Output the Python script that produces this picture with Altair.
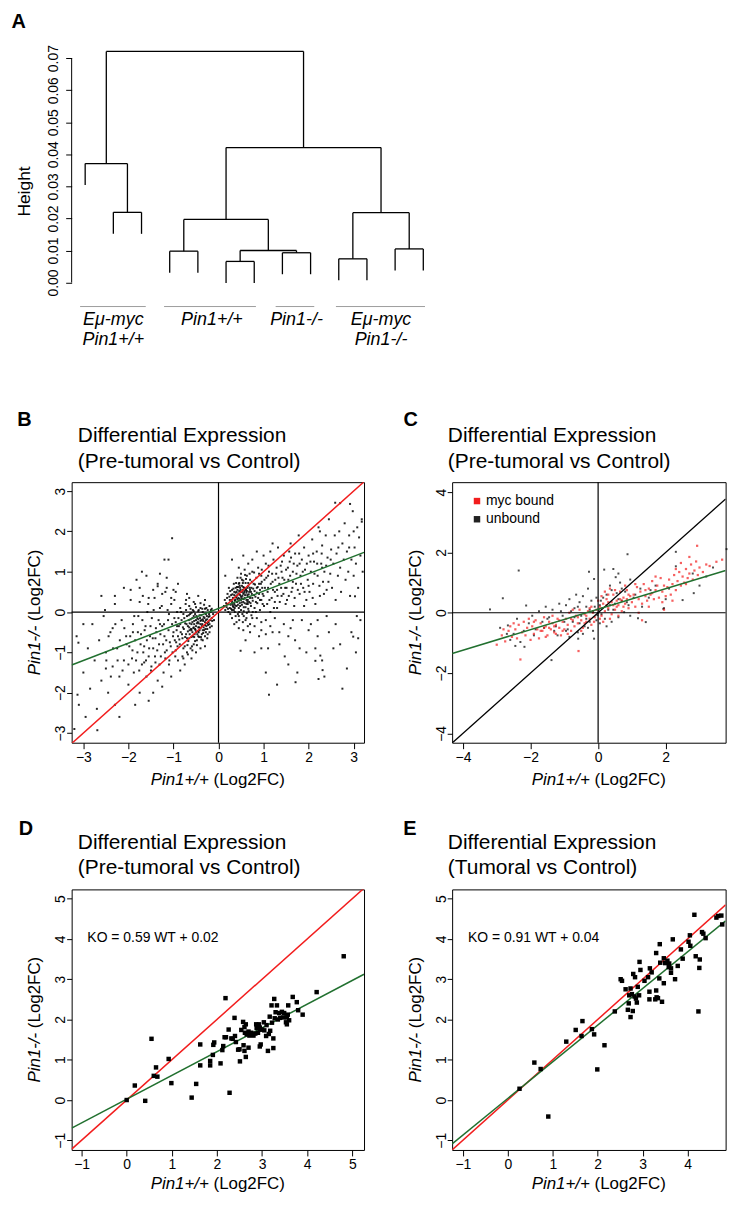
import altair as alt
import pandas as pd

FONT = "Liberation Sans"
RED = "#f21d1d"
GREEN = "#21702f"
GRAY = "#9c9c9c"

# ---------------- Panel A : hierarchical clustering ----------------
A_merge_left = [-6, -10, -8, -4, 1, -12, 4, 2, -2, -1, 7, 10]
A_merge_right = [-7, -11, -9, -5, 3, -13, 5, 6, -3, 9, 8, 11]
A_heights = [0.0066, 0.0074, 0.0093, 0.0098, 0.0100, 0.0105,
             0.0197, 0.0218, 0.0219, 0.0371, 0.0421, 0.0721]
A_hang = 0.0067
A_ticks = [0.0, 0.01, 0.02, 0.03, 0.04, 0.05, 0.06, 0.07]
A_group_start = [0.82, 3.8, 7.76, 9.9]
A_group_end = [3.15, 7.06, 9.13, 13.06]
A_group_center = [2.0, 5.5, 8.5, 11.5]
A_label1 = ["E\u03bc-myc", "Pin1+/+", "Pin1-/-", "E\u03bc-myc"]
A_label2 = ["Pin1+/+", "", "", "Pin1-/-"]

# ---------------- Panel B : all genes (pre-tumoral) ----------------
B_pos_core = [(0.15,0.05),(0.18,0.12),(0.2,0.2),(0.22,0.0),(0.25,0.3),(0.25,0.1),(0.27,0.18),(0.28,0.42),(0.3,0.05),(0.3,0.25),
              (0.32,0.35),(0.33,0.12),(0.35,0.5),(0.35,0.2),(0.36,0.0),(0.37,0.3),(0.38,0.6),(0.4,0.15),(0.4,0.4),(0.41,0.25),
              (0.42,0.55),(0.43,-0.05),(0.44,0.35),(0.45,0.7),(0.45,0.1),(0.46,0.45),(0.47,0.22),(0.48,0.6),(0.5,0.3),(0.5,0.05),
              (0.5,0.5),(0.52,0.8),(0.52,0.18),(0.53,0.4),(0.55,0.62),(0.55,0.25),(0.56,-0.1),(0.57,0.48),(0.58,0.35),(0.6,0.72),
              (0.6,0.12),(0.61,0.55),(0.62,0.3),(0.63,0.9),(0.64,0.42),(0.65,0.2),(0.66,0.65),(0.67,0.02),(0.68,0.5),(0.7,0.35),
              (0.7,0.8),(0.72,0.15),(0.73,0.6),(0.74,0.45),(0.75,1.0),(0.76,0.28),(0.78,0.7),(0.8,0.52),(0.8,0.1),(0.82,0.38),
              (0.84,0.85),(0.85,0.6),(0.86,0.22),(0.88,1.1),(0.9,0.45),(0.9,0.7),(0.92,0.05),(0.95,0.9),(0.95,0.3),(0.97,0.6),
              (0.12,0.15),(0.14,0.3),(0.2,0.45),(0.23,0.6),(0.26,-0.05),(0.3,0.55),(0.34,0.7),(0.38,-0.1),(0.42,0.85),(0.46,-0.2),
              (0.5,0.95),(0.54,-0.25),(0.58,1.05),(0.62,-0.15),(0.66,1.2),(0.7,-0.3),(0.35,0.42),(0.45,0.28),(0.55,0.45),(0.65,0.38),
              (0.4,0.5),(0.6,0.58),(0.48,0.15),(0.52,0.65),(0.32,0.15),(0.58,0.22),(0.44,0.62),(0.68,0.25),(0.36,0.28),(0.62,0.48),
              (0.5,0.38),(0.56,0.32),(0.42,0.32),(0.46,0.52),(0.54,0.55),(0.48,0.42),(0.38,0.48),(0.64,0.6),(0.3,-0.15),(0.35,-0.3),
              (0.45,-0.4),(0.55,-0.45),(0.6,-0.2),(0.7,-0.5),(0.8,-0.35),(0.85,-0.15),(0.9,-0.6),(0.75,-0.15),(0.4,-0.25),(0.65,-0.35),
              (0.17,0.22),(0.19,0.35),(0.21,0.08),(0.24,0.38),(0.26,0.52),(0.29,0.3),(0.31,0.44),(0.33,0.58),(0.34,0.05),(0.37,0.16),
              (0.39,0.36),(0.41,0.62),(0.43,0.18),(0.44,0.46),(0.46,0.72),(0.47,0.33),(0.49,0.55),(0.51,0.24),(0.53,0.5),(0.54,0.72),
              (0.56,0.12),(0.57,0.6),(0.59,0.42),(0.61,0.82),(0.62,0.2),(0.63,0.52),(0.65,0.3),(0.66,0.72),(0.67,0.44),(0.69,0.6),
              (0.71,0.22),(0.72,0.5),(0.74,0.75),(0.75,0.35),(0.77,0.58),(0.79,0.42),(0.81,0.68),(0.83,0.25),(0.85,0.48),(0.87,0.62),
              (0.39,0.72),(0.49,0.85),(0.59,0.92),(0.69,0.95),(0.79,0.98),(0.36,0.1),(0.46,0.0),(0.56,0.02),(0.66,0.08),(0.76,0.0),
              (0.28,0.08),(0.31,0.2),(0.42,0.42),(0.52,0.34),(0.58,0.52),(0.64,0.25),(0.7,0.55),(0.47,0.65),(0.55,0.78),(0.38,0.38),
              (0.53,-0.05),(0.63,-0.02),(0.73,-0.08),(0.45,-0.1),(0.83,0.0),(0.88,0.35),(0.92,0.55),(0.96,0.75),(0.98,0.2),(0.9,0.95)]
B_pos_spread = [(1.0,0.4),(1.02,0.8),(1.05,1.2),(1.08,0.2),(1.1,0.6),(1.12,1.0),(1.15,1.5),(1.18,0.35),(1.2,0.75),(1.22,1.3),
                (1.25,0.5),(1.28,0.95),(1.3,0.1),(1.32,1.6),(1.35,0.7),(1.38,1.15),(1.4,0.4),(1.42,0.85),(1.45,1.4),(1.48,0.6),
                (1.5,1.05),(1.05,-0.2),(1.2,-0.5),(1.35,-0.8),(1.45,-0.3),(1.15,0.0),(1.3,0.55),(1.1,0.9),(1.25,0.25),(1.4,1.0),
                (1.0,1.4),(1.2,1.7),(1.47,-1.1),(1.1,-0.9),
                (1.52,0.3),(1.55,0.8),(1.58,1.25),(1.6,1.7),(1.62,0.5),(1.65,1.0),(1.68,0.15),(1.7,1.45),(1.72,0.7),(1.75,1.15),
                (1.78,1.9),(1.8,0.45),(1.82,0.9),(1.85,1.3),(1.88,0.6),(1.9,1.6),(1.92,1.05),(1.95,0.3),(1.98,0.8),(2.0,1.4),
                (1.6,-0.4),(1.7,-0.7),(1.85,-0.2),(1.95,-1.0),(1.55,-1.3),(1.75,-1.5),(1.65,0.75),(1.9,0.15),(1.8,1.2),(1.57,1.5),
                (2.02,0.5),(2.05,1.0),(2.08,1.8),(2.1,0.7),(2.12,1.25),(2.15,0.2),(2.18,1.5),(2.2,0.9),(2.22,2.1),(2.25,0.4),
                (2.28,1.2),(2.3,1.65),(2.32,0.75),(2.35,1.0),(2.38,1.9),(2.4,0.55),(2.42,1.35),(2.45,2.3),(2.48,0.95),(2.5,1.55),
                (2.05,-0.3),(2.2,-0.6),(2.3,-1.2),(2.4,-0.1),(2.35,-1.6),(2.15,-0.9),(2.45,-0.5),(2.1,1.45),(2.3,1.1),(2.25,2.0),
                (2.52,0.6),(2.55,1.2),(2.58,1.9),(2.6,0.3),(2.62,1.45),(2.65,0.9),(2.68,2.0),(2.7,1.1),(2.72,0.5),(2.75,1.7),
                (2.78,1.3),(2.8,2.2),(2.82,0.8),(2.85,1.5),(2.88,1.0),(2.9,1.9),(2.92,0.4),(2.95,1.3),(2.98,2.5),(3.0,0.9),
                (3.02,1.6),(3.05,1.2),(3.08,2.1),(3.1,0.6),(3.12,1.85),(3.15,1.4),(3.18,2.3),(3.2,1.0),(2.6,-0.3),(2.7,-0.8),
                (2.85,-1.4),(2.95,-0.5),(3.05,-1.0),(3.15,-0.2),(2.55,-0.9),(3.1,-0.65),(2.75,-1.9),(2.66,1.6),(2.9,1.6),(3.0,2.0),
                (2.7,2.7),(0.3,1.3),(0.15,0.9),(0.55,1.4),(0.45,1.1),(0.75,1.3),(0.85,1.5),(0.95,-0.45),(0.95,-0.9),(0.6,-0.7),
                (0.8,-1.0),(1.05,-1.5),(1.3,-1.8),(2.26,-1.08),(2.31,-1.44),(1.71,-1.74),(2.99,-0.61),(1.12,-2.05),(2.22,-1.66),
                (2.15,-1.21),(0.49,-0.96),(3.03,0.39),(3.07,-0.1),(3.18,2.24),(2.92,2.68),(2.59,2.71),
                (0.92,0.3),(0.94,0.7),(0.96,1.05),(0.98,0.45),(1.01,0.15),(1.03,0.6),(1.06,0.85),(1.09,0.5),(1.11,1.15),(1.13,0.3),
                (1.16,0.7),(1.19,0.95),(1.21,0.55),(1.23,0.1),(1.26,0.8),(1.29,1.1),(1.31,0.4),(1.33,0.85),(1.36,0.25),(1.39,0.6),
                (1.41,1.25),(1.44,0.45),(1.46,0.8),(1.49,0.2),(1.51,0.6),(1.54,1.1),(1.56,0.4),(1.59,0.9),(1.61,1.35),(1.64,0.6),
                (1.67,1.2),(1.69,0.35),(1.73,0.95),(1.76,0.55),(1.79,1.45),(1.83,0.7),(1.87,1.0),(1.91,0.5),(1.96,1.2),(2.0,0.65),
                (2.04,1.25),(2.09,0.35),(2.13,0.95),(2.19,1.2),(2.24,0.65),(2.29,1.45),(2.34,0.45),(2.39,1.15),(2.44,0.75),(2.49,1.3),
                (0.95,-0.25),(1.05,-0.55),(1.15,-0.35),(1.25,-0.15),(1.35,-0.5),(1.55,-0.6),(1.65,-0.2),(1.8,-0.9),(2.0,-0.45),(2.2,-0.2)]
B_neg_core = [(-0.12,-0.05),(-0.15,-0.15),(-0.18,0.0),(-0.2,-0.1),(-0.22,-0.25),(-0.24,0.05),(-0.25,-0.18),(-0.27,-0.35),
              (-0.28,-0.05),(-0.3,0.08),(-0.3,-0.25),(-0.32,-0.45),(-0.33,-0.12),(-0.35,0.0),(-0.36,-0.3),(-0.37,-0.55),
              (-0.38,-0.2),(-0.4,0.1),(-0.4,-0.4),(-0.42,-0.08),(-0.43,-0.62),(-0.44,-0.28),(-0.45,0.02),(-0.46,-0.48),
              (-0.47,-0.15),(-0.48,-0.7),(-0.5,-0.35),(-0.5,0.12),(-0.52,-0.05),(-0.53,-0.55),(-0.54,-0.22),(-0.55,-0.8),
              (-0.56,-0.4),(-0.57,0.05),(-0.58,-0.15),(-0.6,-0.62),(-0.6,-0.3),(-0.62,-0.9),(-0.63,-0.05),(-0.64,-0.45),
              (-0.65,0.15),(-0.66,-0.2),(-0.67,-0.72),(-0.68,-0.35),(-0.7,-1.0),(-0.7,-0.1),(-0.72,-0.55),(-0.73,0.2),
              (-0.74,-0.28),(-0.75,-0.85),(-0.77,-0.42),(-0.78,-0.05),(-0.8,-0.65),(-0.8,-1.1),(-0.82,-0.2),(-0.84,-0.5),
              (-0.85,0.1),(-0.86,-0.8),(-0.88,-0.35),(-0.9,-1.2),(-0.9,-0.6),(-0.92,0.0),(-0.95,-0.95),(-0.95,-0.25),
              (-0.97,-0.7),(-0.98,0.3),(-0.2,-0.3),(-0.25,-0.42),(-0.3,-0.6),(-0.35,-0.7),(-0.4,-0.22),(-0.45,-0.38),
              (-0.5,-0.2),(-0.55,-0.1),(-0.35,-0.18),(-0.42,-0.45),(-0.48,-0.28),(-0.38,-0.08),(-0.28,-0.2),(-0.52,-0.42),
              (-0.58,-0.5),(-0.62,-0.18),(-0.45,-0.6),(-0.33,-0.38),(-0.6,-0.02),(-0.22,-0.12),(-0.27,0.1),(-0.15,0.08),
              (-0.4,0.22),(-0.55,0.25),(-0.65,0.35),(-0.3,0.3),(-0.45,0.4),(-0.7,0.45),(-0.2,0.15),(-0.1,-0.2),
              (-0.15,-0.35),(-0.2,-0.5),(-0.25,-0.65),(-0.3,-0.85),(-0.4,-0.9),(-0.5,-1.0),(-0.6,-1.15),(-0.75,-1.3),(-0.85,-1.45),
              (-0.14,-0.22),(-0.17,0.05),(-0.19,-0.38),(-0.21,-0.05),(-0.23,-0.32),(-0.26,-0.1),(-0.29,-0.42),(-0.31,-0.15),
              (-0.34,-0.52),(-0.36,0.08),(-0.37,-0.35),(-0.39,-0.62),(-0.41,-0.15),(-0.43,-0.38),(-0.44,0.05),(-0.46,-0.25),
              (-0.47,-0.55),(-0.49,-0.1),(-0.51,-0.45),(-0.52,-0.72),(-0.54,-0.3),(-0.55,0.02),(-0.57,-0.6),(-0.58,-0.25),
              (-0.59,-0.85),(-0.61,-0.42),(-0.62,0.08),(-0.64,-0.28),(-0.65,-0.65),(-0.66,-0.08),(-0.68,-0.48),(-0.69,-0.82),
              (-0.71,-0.3),(-0.72,0.05),(-0.74,-0.62),(-0.76,-0.15),(-0.78,-0.9),(-0.79,-0.38),(-0.81,-0.55),(-0.83,0.0),
              (-0.85,-0.3),(-0.87,-0.68),(-0.89,-0.15),(-0.91,-0.85),(-0.93,-0.45),(-0.24,-0.55),(-0.34,-0.22),(-0.44,-0.5),
              (-0.54,-0.62),(-0.64,-0.55),(-0.3,-0.32),(-0.4,-0.3),(-0.5,-0.5),(-0.6,-0.45),(-0.7,-0.65),(-0.45,-0.18),
              (-0.55,-0.38),(-0.35,-0.45),(-0.25,-0.28),(-0.65,-0.38),(-0.18,-0.2),(-0.28,-0.5),(-0.38,-0.68),(-0.48,-0.82),
              (-0.58,-0.95),(-0.68,-1.05),(-0.78,-1.15),(-0.32,0.18),(-0.52,0.2),(-0.72,0.3)]
B_neg_spread = [(-1.0,-0.5),(-1.02,-1.0),(-1.05,0.2),(-1.08,-0.75),(-1.1,-1.3),(-1.12,-0.2),(-1.15,-0.95),(-1.18,0.5),
                (-1.2,-0.6),(-1.22,-1.5),(-1.25,-0.35),(-1.28,-1.1),(-1.3,0.1),(-1.32,-0.8),(-1.35,-1.7),(-1.38,-0.5),
                (-1.4,-1.25),(-1.42,0.35),(-1.45,-0.9),(-1.48,-0.15),(-1.5,-1.45),(-1.05,-1.6),(-1.15,0.85),(-1.2,1.3),
                (-1.35,0.7),(-1.45,-2.0),(-1.25,-1.85),(-1.1,-0.05),(-1.3,-0.3),(-1.4,-0.65),(-1.0,0.55),(-1.18,-1.15),
                (-1.52,-0.6),(-1.55,-1.1),(-1.58,0.0),(-1.6,-1.6),(-1.62,-0.35),(-1.65,-0.85),(-1.68,0.4),(-1.7,-1.3),
                (-1.72,-0.55),(-1.75,-2.0),(-1.78,-0.1),(-1.8,-1.0),(-1.82,0.8),(-1.85,-0.7),(-1.88,-1.5),(-1.9,-0.3),
                (-1.92,-1.15),(-1.95,0.3),(-1.98,-0.85),(-2.0,-1.8),(-1.6,0.9),(-1.7,1.0),(-1.55,-2.2),(-1.85,-2.3),
                (-1.65,-1.25),(-1.9,-0.5),(-2.05,-0.6),(-2.1,-1.2),(-2.15,-0.2),(-2.2,-1.6),(-2.25,-0.9),(-2.3,0.2),
                (-2.35,-1.35),(-2.4,-0.5),(-2.45,-2.0),(-2.5,-1.0),(-2.55,-0.1),(-2.6,-1.7),(-2.65,-0.7),(-2.7,-2.4),
                (-2.75,-1.2),(-2.8,-0.3),(-2.85,-1.9),(-2.9,-0.9),(-2.95,-2.6),(-3.0,-1.5),(-3.1,-2.3),(-3.15,-0.6),
                (-3.2,-2.9),(-2.3,-2.3),(-2.1,0.6),(-2.6,0.4),(-2.2,-2.6),(-3.0,-0.3),(-2.5,-1.4),(-2.35,-0.4),
                (-1.03,1.83),(-1.11,1.30),(-1.35,0.64),(-1.75,0.6),(-2.3,0.4),(-2.52,0.05),(-3.11,-0.76),(-3.13,-2.05),(-2.69,-2.93),
                (-0.92,-0.35),(-0.94,-0.75),(-0.96,-1.1),(-0.98,-0.15),(-1.01,-0.6),(-1.03,-0.3),(-1.06,-0.85),(-1.09,-1.2),
                (-1.11,-0.45),(-1.13,0.05),(-1.16,-0.7),(-1.19,-1.0),(-1.21,-0.3),(-1.23,-0.8),(-1.26,0.15),(-1.29,-0.55),
                (-1.31,-1.3),(-1.33,-0.2),(-1.36,-0.95),(-1.39,-0.4),(-1.41,-1.1),(-1.44,0.05),(-1.46,-0.65),(-1.49,-1.35),
                (-1.51,-0.35),(-1.54,-0.9),(-1.56,0.2),(-1.59,-0.7),(-1.61,-1.2),(-1.64,-0.45),(-1.67,-1.0),(-1.69,-0.2),
                (-1.73,-0.8),(-1.76,-1.45),(-1.79,-0.5),(-1.83,-1.2),(-1.87,-0.1),(-1.91,-0.95),(-1.96,-0.6),(-2.0,-1.3),
                (-2.04,-0.8),(-2.09,-0.4),(-2.13,-1.45),(-2.19,-0.7),(-2.24,-1.2),(-2.29,-0.3),(-2.34,-0.9),(-2.39,-1.6),
                (-2.44,-0.6),(-2.49,-1.2),(-0.95,0.5),(-1.05,0.35),(-1.15,0.6),(-1.25,0.45),(-1.45,0.55),(-1.55,0.35),
                (-1.75,0.25),(-1.95,0.55),(-0.9,0.7),(-1.3,0.95)]
B_fit = (0.43, 0.09)      # green regression line: slope, intercept
B_identity = (1.0, 0.0)   # red y = x

# ---------------- Panel C : myc bound / unbound ----------------
C_bound = [(-3.0,-1.06),(-2.85,-0.75),(-2.75,-0.95),(-2.65,-0.6),(-2.55,-0.8),(-2.45,-0.55),(-2.4,-0.85),(-2.35,-0.4),
           (-2.3,-1.55),(-2.25,-0.65),(-2.2,-0.3),(-2.15,-0.75),(-2.1,-0.5),(-2.05,-0.2),(-2.0,-0.9),(-2.5,-0.35),
           (-2.6,-0.45),(-2.8,-0.55),(-1.95,-0.45),(-1.9,-0.7),(-1.85,-0.25),(-1.8,-0.55),(-1.75,-0.85),(-1.7,-0.35),
           (-1.65,-0.6),(-1.6,-0.15),(-1.55,-0.45),(-1.5,-0.75),(-1.45,-0.3),(-1.4,-0.55),(-1.35,-0.1),(-1.3,-0.65),
           (-1.25,-0.4),(-1.2,-0.2),(-1.15,-0.5),(-1.1,-0.75),(-1.05,-0.3),(-1.0,-0.55),(-1.9,-0.3),(-1.7,-0.6),
           (-1.55,-0.8),(-1.45,-0.5),(-1.35,-0.35),(-1.25,-0.7),(-1.15,-0.25),(-1.05,-0.6),(-1.6,-0.5),(-1.3,-0.45),
           (-0.95,-0.2),(-0.9,-0.4),(-0.85,0.0),(-0.8,-0.6),(-0.75,-0.25),(-0.7,-0.45),(-0.65,-0.1),(-0.6,-0.35),
           (-0.55,0.1),(-0.5,-0.25),(-0.45,-0.5),(-0.4,-0.05),(-0.35,-0.3),(-0.3,0.05),(-0.25,-0.2),(-0.2,-0.4),
           (-0.15,0.0),(-0.1,-0.15),(-0.05,0.1),(-0.58,-1.27),(-0.9,-0.7),(-0.75,0.1),(-0.6,-0.15),(-0.5,-0.6),
           (-0.35,-0.1),(-0.25,0.15),(-0.12,-0.3),(-0.8,-0.2),(-0.4,-0.35),(-0.2,0.2),
           (0.05,0.2),(0.1,-0.1),(0.15,0.3),(0.2,0.05),(0.25,0.45),(0.3,0.15),(0.35,-0.2),(0.4,0.35),(0.45,0.6),
           (0.5,0.1),(0.55,0.4),(0.6,0.25),(0.65,0.7),(0.7,0.05),(0.75,0.5),(0.8,0.3),(0.85,0.75),(0.9,0.15),
           (0.95,0.55),(1.0,0.35),(0.1,0.55),(0.2,0.7),(0.3,0.6),(0.4,-0.05),(0.5,0.75),(0.6,-0.1),(0.7,0.4),
           (0.8,0.9),(0.25,0.25),(0.55,0.2),(0.15,-0.3),(0.35,0.8),(0.65,0.45),(0.45,0.25),(0.9,0.6),(0.0,0.4),
           (0.05,-0.2),(0.75,0.2),(0.85,0.45),(0.3,0.35),
           (1.05,0.6),(1.1,0.2),(1.15,0.85),(1.2,0.45),(1.25,0.7),(1.3,0.3),(1.35,0.95),(1.4,0.55),(1.45,0.4),
           (1.5,0.8),(1.55,0.6),(1.6,1.05),(1.65,0.45),(1.7,0.75),(1.75,0.9),(1.8,0.5),(1.85,1.15),(1.9,0.7),
           (1.95,0.9),(2.0,0.55),(1.1,0.95),(1.3,-0.25),(1.5,0.2),(1.7,1.2),(1.9,0.35),(1.2,0.0),(1.4,0.75),(1.6,0.65),
           (2.05,0.85),(2.1,1.1),(2.15,0.6),(2.2,0.95),(2.25,1.25),(2.3,0.75),(2.35,1.05),(2.4,1.35),(2.45,0.9),
           (2.5,1.2),(2.55,1.0),(2.6,1.45),(2.65,1.15),(2.7,1.3),(2.75,1.6),(2.8,1.1),(2.85,1.4),(2.9,1.7),
           (2.93,2.22),(2.95,1.25),(3.0,1.5),(3.1,1.35),(3.2,1.6),(3.3,1.55),(3.5,1.69),(3.67,1.76),(2.3,1.45),
           (2.6,0.95),(2.45,1.65),(2.7,1.85),(1.95,0.1),(2.2,0.4)]
C_unbound = [(-3.2,0.11),(-2.82,0.48),(-2.35,1.40),(-2.13,0.24),(-2.67,-0.42),(-2.3,-0.97),(-2.18,-1.13),(-2.9,-0.5),
             (-2.5,-0.7),(-2.4,-0.2),(-2.6,-0.9),(-2.2,-0.6),(-2.05,-0.35),(-1.95,-0.1),(-1.85,-0.55),(-1.75,0.05),
             (-1.65,-0.3),(-1.55,0.2),(-1.45,-0.15),(-1.38,-1.57),(-1.35,0.1),(-1.25,-0.45),(-1.15,0.3),(-1.05,-0.1),
             (-0.95,0.25),(-0.9,-0.55),(-0.85,0.45),(-0.75,-0.3),(-0.7,0.15),(-0.65,0.6),(-0.6,-0.65),(-0.59,-0.86),
             (-0.55,0.35),(-0.5,-0.1),(-0.45,0.55),(-0.4,-0.45),(-0.35,0.2),(-0.3,0.8),(-0.27,1.36),(-0.25,-0.3),
             (-0.2,0.4),(-0.15,-0.6),(-0.12,1.12),(-0.12,-0.86),(-0.1,0.2),(-0.05,-0.25),(0.0,0.0),(0.02,0.1),
             (-0.02,-0.08),(0.05,-0.35),(0.08,0.4),(0.12,0.15),(0.18,1.43),(0.2,-0.2),(0.25,0.6),(0.3,0.1),(0.35,0.9),
             (0.4,-0.3),(0.45,1.45),(0.5,0.3),(0.52,1.18),(0.55,0.65),(0.6,-0.15),(0.65,1.0),(0.7,0.4),(0.77,0.02),
             (0.8,0.7),(0.87,1.94),(0.9,0.25),(0.95,1.1),(1.05,0.5),(1.18,-0.18),(1.25,0.8),(1.41,-0.31),(1.5,0.5),
             (1.7,0.9),(1.93,0.13),(1.95,0.15),(2.1,0.8),(2.3,2.02),(2.3,1.54),(2.5,0.42),(2.83,0.65),(3.2,1.2),
             (3.8,2.11),(-1.9,-0.75),(-1.6,-0.5),(-1.2,-0.75),(-1.0,-0.3),(-0.8,0.05),(-0.55,-0.35),(-0.35,-0.2),
             (-0.15,0.05),(-0.25,0.1),(0.1,-0.05),(0.15,0.5),(0.35,0.25),(0.45,0.1),(0.6,0.45),(0.85,0.35),
             (-0.7,-0.15),(-0.45,-0.7),(-0.95,-0.6),(-1.1,0.05),(-1.5,-0.2),(-2.7,-0.7),(-2.45,-1.1),(0.05,0.25),
             (-0.05,0.5),(0.25,-0.45),(-0.3,-0.5),(0.6,1.3),(0.4,0.75),(-0.6,0.2),(1.3,0.2),(1.55,0.75),(2.0,0.45),
             (2.8,1.3),(3.4,1.5),(3.0,0.9),(-0.85,-0.8),(-1.3,-0.6),(0.95,-0.1),(1.1,0.6),(0.7,0.8)]
C_fit = (0.34, 0.12)
C_identity = (1.0, 0.0)
C_legend = ["myc bound", "unbound"]

# ---------------- Panel D : pre-tumoral, selected genes ----------------
D_points = [(0.0,0.0),(0.18,0.36),(0.41,-0.02),(0.55,1.52),(0.65,0.81),(0.60,0.60),(0.68,0.58),(0.93,1.02),(0.99,0.42),
            (1.44,0.06),(1.54,0.40),(1.63,1.38),(1.63,0.86),(1.85,0.86),(1.85,0.97),(1.91,1.12),(1.92,1.37),(1.94,1.43),
            (2.08,0.91),(2.19,2.53),(2.12,1.24),(2.14,1.34),(2.17,1.56),(2.20,1.56),(2.26,1.75),(2.28,0.18),(2.32,1.53),
            (2.39,2.04),(2.40,1.59),(2.42,1.44),(2.50,1.26),(2.51,0.96),(2.54,1.74),(2.58,1.94),(2.59,1.36),(2.61,1.22),
            (2.61,1.81),(2.62,1.67),(2.64,1.07),(2.66,1.63),(2.70,1.30),(2.72,1.60),(2.76,1.67),(2.81,1.60),(2.87,1.88),
            (2.88,1.79),(2.91,1.67),(2.93,1.88),(2.96,1.75),(2.97,1.38),(3.00,1.75),(3.04,1.93),(3.09,1.59),(3.13,1.22),
            (3.15,1.64),(3.17,2.07),(3.21,2.35),(3.22,1.92),(3.25,1.53),(3.25,1.29),(3.27,2.51),(3.30,2.18),(3.33,2.35),
            (3.35,2.00),(3.40,2.04),(3.44,2.19),(3.49,2.16),(3.53,1.93),(3.55,1.88),(3.57,2.12),(3.58,2.35),(3.68,2.56),
            (3.77,2.43),(3.80,2.23),(3.90,2.12),(4.21,2.68),(4.81,3.57),(2.64,1.88),(2.70,1.70),(2.78,1.62),(2.85,1.65),
            (2.95,1.80),(3.05,1.73),(3.10,1.86),(3.18,1.72),(3.28,2.03),(3.38,2.16),(3.47,2.05),(3.60,1.98),(2.47,1.25),
            (2.35,1.52),(2.95,1.33),(3.55,2.05)]
D_fit = (0.59, 0.02)
D_identity = (1.0, 0.0)
D_equation = "KO = 0.59 WT + 0.02"

# ---------------- Panel E : tumoral, selected genes ----------------
E_points = [(0.26,0.28),(0.59,0.93),(0.73,0.77),(0.90,-0.41),(1.30,1.45),(1.51,1.74),(1.66,1.96),(1.64,1.59),(1.87,1.76),
            (1.92,1.63),(1.99,0.76),(2.15,1.36),(2.38,2.20),(2.51,3.00),(2.54,2.96),(2.62,2.75),(2.67,2.24),(2.69,2.40),
            (2.73,2.06),(2.73,2.77),(2.76,2.63),(2.79,3.13),(2.78,2.21),(2.83,3.05),(2.85,2.52),(2.87,2.42),(2.89,2.81),
            (2.92,2.60),(2.93,3.43),(2.95,3.23),(3.04,2.96),(3.15,2.69),(3.15,2.50),(3.16,3.27),(3.20,3.17),(3.28,2.50),
            (3.30,2.72),(3.31,2.55),(3.34,2.53),(3.30,3.65),(3.38,3.87),(3.39,3.41),(3.37,3.02),(3.43,2.44),(3.47,2.90),
            (3.47,3.52),(3.55,3.46),(3.59,3.39),(3.63,3.27),(3.63,3.16),(3.67,3.99),(3.72,3.00),(3.78,3.33),(3.85,3.74),
            (3.89,3.51),(4.02,3.93),(4.05,4.09),(4.06,3.83),(4.15,4.60),(4.18,3.57),(4.24,2.20),(4.27,3.49),(4.26,3.28),
            (4.32,4.17),(4.35,4.13),(4.40,4.02),(4.64,4.53),(4.75,4.58),(4.77,4.36),(4.68,4.57),(2.82,2.57),(3.12,3.05),
            (3.50,3.40),(3.58,3.30),(2.70,2.60)]
E_fit = (0.91, 0.04)
E_identity = (1.0, 0.0)
E_equation = "KO = 0.91 WT + 0.04"

# ---------------- helpers ----------------
ONE = alt.Data(values=[{"k": 0}])


def pts_df(*lists):
    rows = [p for lst in lists for p in lst]
    return pd.DataFrame({"x": [p[0] for p in rows], "y": [p[1] for p in rows]})


def line_df(coef, xdom):
    slope, icpt = coef
    return pd.DataFrame({"x": list(xdom), "y": [slope * v + icpt for v in xdom]})


def txt(s, x, y, size, **kw):
    return alt.Chart(ONE).mark_text(text=s, font=FONT, fontSize=size, color="black", **kw).encode(
        x=alt.value(x), y=alt.value(y))


def xaxis(vals, flush=False):
    return alt.Axis(values=vals, title=None, grid=False, domain=False, ticks=True, tickSize=6,
                    tickColor="black", tickWidth=1, labelFont=FONT, labelFontSize=14, labelColor="black",
                    labelPadding=2, labelAngle=0, labelFlush=flush, labelOverlap=False, format="d")


def yaxis(vals, fmt="d", pad=2, tick=5):
    return alt.Axis(values=vals, title=None, grid=False, domain=False, ticks=True, tickSize=tick,
                    tickColor="black", tickWidth=1, labelFont=FONT, labelFontSize=14, labelColor="black",
                    labelPadding=pad, labelAngle=270, labelAlign="center", labelBaseline="alphabetic",
                    labelOverlap=False, format=fmt)


def axis_titles(w, h, xoff):
    cx, cy = w / 2.0, h / 2.0
    return [
        txt("Pin1+/+", cx - 9.0, h + xoff, 17, align="right", fontStyle="italic"),
        txt("(Log2FC)", cx - 4.3, h + xoff, 17, align="left"),
        txt("Pin1-/-", -36.5, cy + 13.2, 17, align="right", fontStyle="italic", angle=270),
        txt("(Log2FC)", -36.5, cy + 8.5, 17, align="left", angle=270),
    ]


def enc_xy(xdom, ydom, xt, yt):
    xt = [v for v in xt if xdom[0] <= v <= xdom[1]]
    yt = [v for v in yt if ydom[0] <= v <= ydom[1]]
    X = alt.X("x:Q", scale=alt.Scale(domain=xdom, nice=False, zero=False), axis=xaxis(xt))
    Y = alt.Y("y:Q", scale=alt.Scale(domain=ydom, nice=False, zero=False), axis=yaxis(yt))
    return X, Y


# ---------------- Panel A chart ----------------
pos = {}
segs = []
for i, (l, r, h) in enumerate(zip(A_merge_left, A_merge_right, A_heights), start=1):
    xs = []
    for c in (l, r):
        if c < 0:
            xc, y0 = float(-c), h - A_hang
        else:
            xc, y0 = pos[c], A_heights[c - 1]
        segs.append({"x": xc, "x2": xc, "y": y0, "y2": h})
        xs.append(xc)
    segs.append({"x": xs[0], "x2": xs[1], "y": h, "y2": h})
    pos[i] = (xs[0] + xs[1]) / 2.0
seg_df = pd.DataFrame(segs)

ROW_GAP = 147.5
AW = 367.2
AH = 441.8 - ROW_GAP          # A's plot box ends one row-gap above panel B
A_px_per_unit = 3224.0        # pixels per unit of height
AXS = alt.Scale(domain=[0.52, 13.48], nice=False, zero=False)
AYS = alt.Scale(domain=[0.075 - AH / A_px_per_unit, 0.075], nice=False, zero=False)
a_yaxis = yaxis(A_ticks, fmt=".2f", pad=8, tick=6)

a_dend = alt.Chart(seg_df).mark_rule(color="black", strokeWidth=1.3).encode(
    x=alt.X("x:Q", scale=AXS, axis=None), x2="x2:Q",
    y=alt.Y("y:Q", scale=AYS, axis=a_yaxis), y2="y2:Q")
a_domain = alt.Chart(pd.DataFrame({"y": [A_ticks[0]], "y2": [A_ticks[-1]]})).mark_rule(
    color="black", strokeWidth=1).encode(
    x=alt.value(0), y=alt.Y("y:Q", scale=AYS, axis=a_yaxis), y2="y2:Q")
a_groups = alt.Chart(pd.DataFrame({"s": A_group_start, "e": A_group_end})).mark_rule(
    color=GRAY, strokeWidth=1).encode(
    x=alt.X("s:Q", scale=AXS, axis=None), x2="e:Q", y=alt.value(265.9))
a_lab1 = alt.Chart(pd.DataFrame({"c": A_group_center, "t": A_label1})).mark_text(
    font=FONT, fontSize=18, fontStyle="italic", color="black").encode(
    x=alt.X("c:Q", scale=AXS, axis=None), y=alt.value(279.5), text="t:N")
lab2 = [(c, t) for c, t in zip(A_group_center, A_label2) if t]
a_lab2 = alt.Chart(pd.DataFrame({"c": [c for c, _ in lab2], "t": [t for _, t in lab2]})).mark_text(
    font=FONT, fontSize=18, fontStyle="italic", color="black").encode(
    x=alt.X("c:Q", scale=AXS, axis=None), y=alt.value(299.5), text="t:N")

chart_A = alt.layer(
    a_dend, a_domain, a_groups, a_lab1, a_lab2,
    txt("A", -53.2, -20.2, 20, fontWeight="bold"),
    txt("Height", -46.5, 150.2, 17.5, angle=270),
).properties(width=AW, height=AH, view=alt.ViewBackground(stroke=None))

# ---------------- Panel B chart ----------------
BXD, BYD = [-3.26, 3.23], [-3.24, 3.22]
BW, BH = 294, 262
X, Y = enc_xy(BXD, BYD, [-3, -2, -1, 0, 1, 2, 3], [-3, -2, -1, 0, 1, 2, 3])
b_pts = alt.Chart(pts_df(B_neg_spread, B_pos_spread, B_neg_core, B_pos_core)).mark_square(
    size=4, color="black", opacity=0.85).encode(x=X, y=Y)
b_v0 = alt.Chart(pd.DataFrame({"x": [0.0]})).mark_rule(color="black", strokeWidth=1.2).encode(x=X)
b_h0 = alt.Chart(pd.DataFrame({"y": [0.0]})).mark_rule(color="black", strokeWidth=1.2).encode(y=Y)
b_red = alt.Chart(line_df(B_identity, BXD)).mark_line(color=RED, strokeWidth=1.5, clip=True).encode(x=X, y=Y)
b_green = alt.Chart(line_df(B_fit, BXD)).mark_line(color=GREEN, strokeWidth=1.5, clip=True).encode(x=X, y=Y)
chart_B = alt.layer(
    b_pts, b_v0, b_h0, b_red, b_green,
    txt("B", -47.5, -62.5, 20, fontWeight="bold"),
    txt("Differential Expression", 6.2, -46.7, 21, align="left"),
    txt("(Pre-tumoral vs Control)", 6.2, -20.0, 21, align="left"),
    *axis_titles(BW, BH, 38),
).properties(width=BW, height=BH)

# ---------------- Panel C chart ----------------
CW, CH = 275, 262
CXD, CYD = [-4.32, -4.32 + CW / 33.98], [-4.31, 4.33]
X, Y = enc_xy(CXD, CYD, [-4, -2, 0, 2, 4], [-4, -2, 0, 2, 4])
c_unb = alt.Chart(pts_df(C_unbound)).mark_square(size=4, color="black").encode(x=X, y=Y)
c_bnd = alt.Chart(pts_df(C_bound)).mark_square(size=5, color=RED).encode(x=X, y=Y)
c_v0 = alt.Chart(pd.DataFrame({"x": [0.0]})).mark_rule(color="black", strokeWidth=1.2).encode(x=X)
c_h0 = alt.Chart(pd.DataFrame({"y": [0.0]})).mark_rule(color="black", strokeWidth=1.2).encode(y=Y)
c_diag = alt.Chart(line_df(C_identity, CXD)).mark_line(color="black", strokeWidth=1.3, clip=True).encode(x=X, y=Y)
c_green = alt.Chart(line_df(C_fit, CXD)).mark_line(color=GREEN, strokeWidth=1.5, clip=True).encode(x=X, y=Y)
chart_C = alt.layer(
    c_unb, c_bnd, c_v0, c_h0, c_diag, c_green,
    alt.Chart(ONE).mark_square(size=42, color=RED, opacity=1).encode(x=alt.value(25), y=alt.value(19)),
    alt.Chart(ONE).mark_square(size=42, color="#222222", opacity=1).encode(x=alt.value(25), y=alt.value(37.3)),
    txt(C_legend[0], 34, 19, 14, align="left"),
    txt(C_legend[1], 34, 37.3, 14, align="left"),
    txt("C", -41.6, -62.5, 20, fontWeight="bold"),
    txt("Differential Expression", -4.3, -46.7, 21, align="left"),
    txt("(Pre-tumoral vs Control)", -4.3, -20.0, 21, align="left"),
    *axis_titles(295, CH, 38),
).properties(width=CW, height=CH)

# ---------------- Panel D chart ----------------
DXD, DYD = [-1.22, 5.26], [-1.24, 5.23]
DW, DH = 294, 262
X, Y = enc_xy(DXD, DYD, [-1, 0, 1, 2, 3, 4, 5], [-1, 0, 1, 2, 3, 4, 5])
d_red = alt.Chart(line_df(D_identity, DXD)).mark_line(color=RED, strokeWidth=1.5, clip=True).encode(x=X, y=Y)
d_green = alt.Chart(line_df(D_fit, DXD)).mark_line(color=GREEN, strokeWidth=1.5, clip=True).encode(x=X, y=Y)
d_pts = alt.Chart(pts_df(D_points)).mark_square(size=20, color="black", opacity=1).encode(x=X, y=Y)
chart_D = alt.layer(
    d_red, d_green, d_pts,
    txt(D_equation, 15.8, 48.5, 14, align="left"),
    txt("D", -46.0, -61.2, 20, fontWeight="bold"),
    txt("Differential Expression", 6.2, -46.5, 21, align="left"),
    txt("(Pre-tumoral vs Control)", 6.2, -21.5, 21, align="left"),
    *axis_titles(DW, DH, 34),
).properties(width=DW, height=DH)

# ---------------- Panel E chart ----------------
EW, EH = 275, 262
EXD, EYD = [-1.239, -1.239 + EW / 45.2], [-1.24, 5.23]
X, Y = enc_xy(EXD, EYD, [-1, 0, 1, 2, 3, 4, 5], [-1, 0, 1, 2, 3, 4, 5])
e_red = alt.Chart(line_df(E_identity, EXD)).mark_line(color=RED, strokeWidth=1.5, clip=True).encode(x=X, y=Y)
e_green = alt.Chart(line_df(E_fit, EXD)).mark_line(color=GREEN, strokeWidth=1.5, clip=True).encode(x=X, y=Y)
e_pts = alt.Chart(pts_df(E_points)).mark_square(size=20, color="black", opacity=1).encode(x=X, y=Y)
chart_E = alt.layer(
    e_red, e_green, e_pts,
    txt(E_equation, 16.0, 48.5, 14, align="left"),
    txt("E", -42.5, -61.2, 20, fontWeight="bold"),
    txt("Differential Expression", -4.3, -46.5, 21, align="left"),
    txt("(Tumoral vs Control)", -4.3, -21.5, 21, align="left"),
    *axis_titles(295, EH, 34),
).properties(width=EW, height=EH)

placeholder = alt.Chart(ONE).mark_text(text=" ").encode(x=alt.value(0), y=alt.value(0)).properties(
    width=1, height=1, view=alt.ViewBackground(stroke=None))

chart = alt.concat(
    chart_A, placeholder, chart_B, chart_C, chart_D, chart_E,
    columns=2, spacing={"row": ROW_GAP, "column": 14.6}, bounds="flush",
).properties(
    padding={"left": 3, "top": 0, "right": 0, "bottom": 0}, background="white",
).configure_view(stroke="black", strokeWidth=1)

chart.save("out.html", embed_options={"renderer": "svg", "actions": False})
